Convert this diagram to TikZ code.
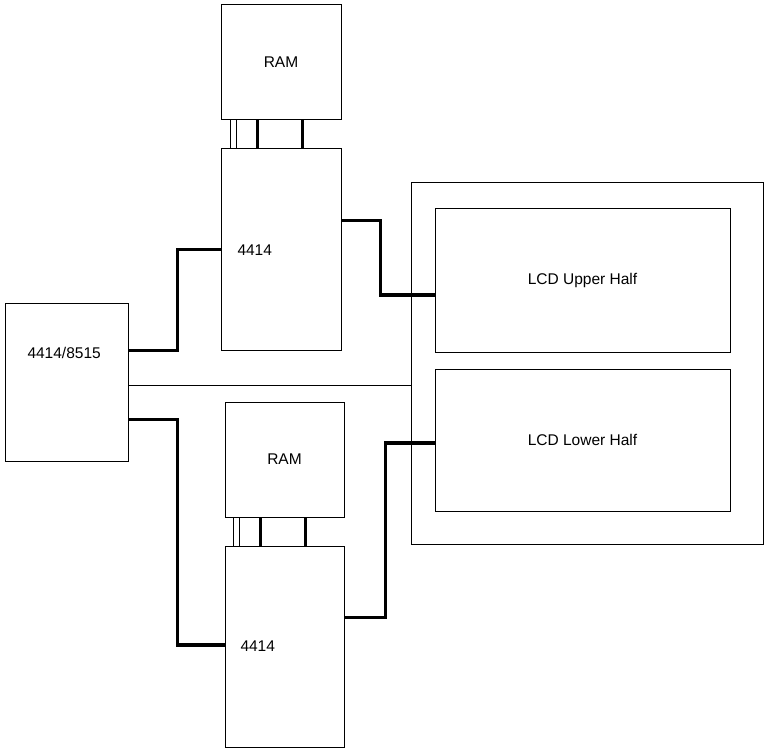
\documentclass[tikz,border=0pt]{standalone}
\usepackage{fontspec}
\setmainfont{Liberation Sans}
\usepackage{tikz}
\usetikzlibrary{calc}

\begin{document}
\begin{tikzpicture}[x=1pt, y=-1pt, line width=1pt,
    font=\fontsize{15.5}{18}\selectfont,
    box/.style={draw, rectangle, inner sep=0pt},
    wire/.style={line width=3.5pt},
    lbl/.style={anchor=west, inner sep=0pt}]

    % Fix the page size
    \useasboundingbox (0,0) rectangle (773,754);

    % Draw the controller and the two driver chips
    \node[box, minimum width=123, minimum height=158] (ctrl) at (66.5,382) {};
    \node[lbl] (ctrltext) at (27,353) {4414/8515};
    \node[box, minimum width=120, minimum height=201] (chipA) at (281,249.5) {};
    \node[lbl] (chipAtext) at (237,250) {4414};
    \node[box, minimum width=119, minimum height=201] (chipB) at (284.5,646.5) {};
    \node[lbl] (chipBtext) at (240,646) {4414};

    % Draw the RAM boxes
    \node[box, minimum width=120, minimum height=115] (ramA) at (281,62.5) {RAM};
    \node[box, minimum width=119, minimum height=115] (ramB) at (284.5,459.5) {RAM};

    % Draw the LCD frame and its halves
    \node[box, minimum width=352, minimum height=361] (lcd) at (587,363.5) {};
    \node[box, minimum width=295, minimum height=144] (upper) at (582.5,280) {LCD Upper Half};
    \node[box, minimum width=295, minimum height=142] (lower) at (582.5,440) {LCD Lower Half};

    % Links between RAM and chips
    \foreach \dx in {10,16} {
        \draw ([xshift=\dx]ramA.south west) -- ([xshift=\dx]chipA.north west);
        \draw ([xshift=\dx-1]ramB.south west) -- ([xshift=\dx-1]chipB.north west);
    }
    \foreach \dx in {37,82} {
        \draw[wire] ([xshift=\dx]ramA.south west) -- ([xshift=\dx]chipA.north west);
        \draw[wire] ([xshift=\dx-1]ramB.south west) -- ([xshift=\dx-1]chipB.north west);
    }

    % Controller to chips
    \draw[wire] (ctrl.east |- chipA.south) -- ++(49,0) |- (chipA.west);
    \draw[wire] ($(ctrl.south east)+(0,-42)$) -- ++(49,0) |- ($(chipB.west)+(0,-1.5)$);
    \draw ($(ctrl.east)+(0,3)$) -- ($(ctrl.east -| lcd.west)+(0,3)$);

    % Chips to LCD
    \draw[wire] ($(chipA.north east)+(0,72)$) -- ++(39,0) |- ($(upper.west)+(0,15)$);
    \draw[wire] ($(chipB.north east)+(0,72)$) -- ++(41,0) |- ($(lower.west)+(0,3)$);

\end{tikzpicture}
\end{document}
